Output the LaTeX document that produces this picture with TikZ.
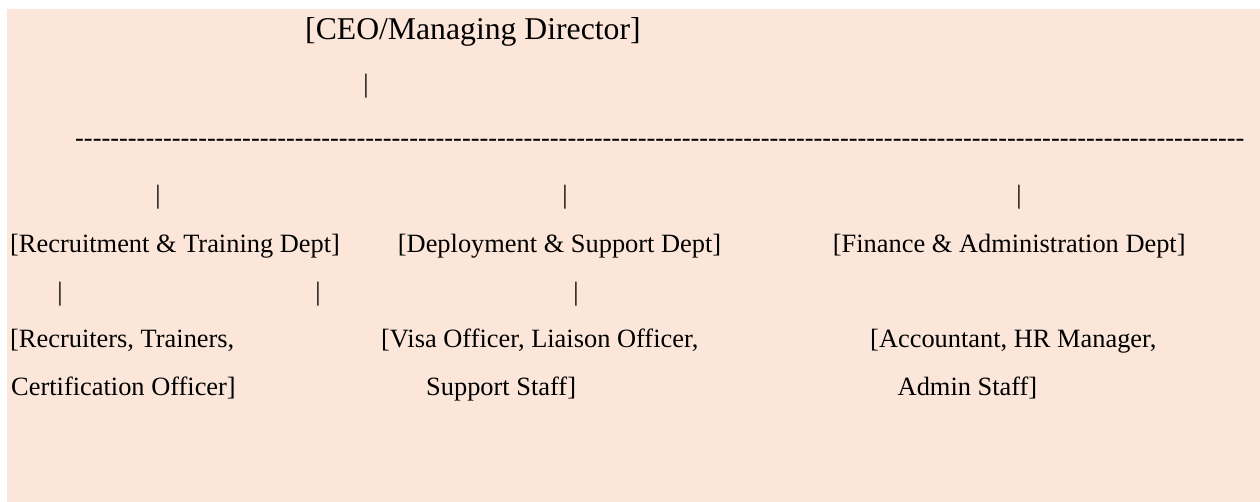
\documentclass[tikz,border=0pt]{standalone}
\usepackage{fontspec}
\setmainfont{Liberation Serif}
\definecolor{peach}{HTML}{FBE6D9}

\begin{document}
\begin{tikzpicture}[x=1pt, y=-1pt,
    lbl/.style={anchor=base west, inner sep=0pt, font=\fontsize{26.4}{30}\selectfont},
    bar/.style={anchor=base, inner sep=0pt, font=\fontsize{26.4}{30}\selectfont}]

  \fill[peach] (7,9) rectangle (1260,502);
  \useasboundingbox (0,0) rectangle (1260,502);

  % top
  \node[lbl, font=\fontsize{31.7}{36}\selectfont] (ceo) at (305,40) {[CEO/Managing Director]};
  \node[bar] (ceobar) at (366,93) {|};
  \node[lbl] (rule) at (75,147) {\foreach \k in {1,...,133}{\hbox{-}}};

  % departments
  \node[bar] (recbar) at (158,204) {|};
  \node[bar] (depbar) at (565,204) {|};
  \node[bar] (finbar) at (1019,204) {|};
  \node[lbl] (rec) at (10,253) {[Recruitment \& Training Dept]};
  \node[lbl] (dep) at (397.7,253) {[Deployment \& Support Dept]};
  \node[lbl] (fin) at (832.7,253) {[Finance \& Administration Dept]};

  % staff
  \node[bar] (recbarA) at (60,301) {|};
  \node[bar] (recbarB) at (318,301) {|};
  \node[bar] (depbarA) at (576,301) {|};
  \node[lbl] (recstaff) at (10,348) {[Recruiters, Trainers,};
  \node[lbl] (recstaffB) at (11,395) {Certification Officer]};
  \node[lbl] (depstaff) at (381,348) {[Visa Officer, Liaison Officer,};
  \node[lbl] (depstaffB) at (426,395) {Support Staff]};
  \node[lbl] (finstaff) at (870,348) {[Accountant, HR Manager,};
  \node[lbl] (finstaffB) at (897.5,395) {Admin Staff]};
\end{tikzpicture}
\end{document}
